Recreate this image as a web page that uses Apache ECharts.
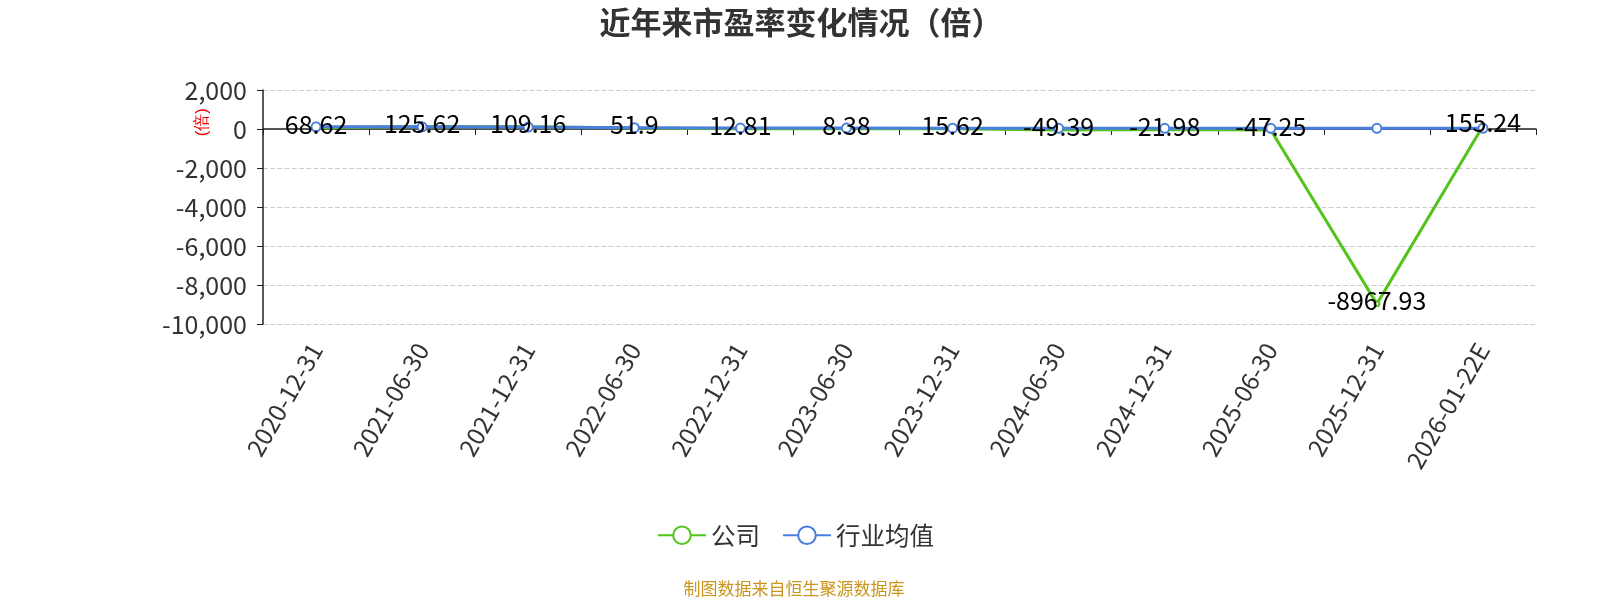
<!DOCTYPE html>
<html><head><meta charset="utf-8">
<script src="https://cdn.jsdelivr.net/npm/echarts@6/dist/echarts.min.js"></script>
<style>html,body{margin:0;padding:0;background:#fff;overflow:hidden}#c{width:1600px;height:600px}</style>
</head><body><div id="c"></div>
<script>
const categories = ['2020-12-31','2021-06-30','2021-12-31','2022-06-30','2022-12-31','2023-06-30','2023-12-31','2024-06-30','2024-12-31','2025-06-30','2025-12-31','2026-01-22E'];
const companyPE = [68.62,125.62,109.16,51.9,12.81,8.38,15.62,-49.39,-21.98,-47.25,-8967.93,155.24];
const industryPE = [110,110,100,70,50,45,40,35,35,35,35,35];
const yTicks = {min:-10000, max:2000, interval:2000};
const font = '"Noto Sans CJK SC",sans-serif';
const chart = echarts.init(document.getElementById('c'));
chart.setOption({
  animation:false,
  textStyle:{fontFamily:font},
  title:[
    {text:'近年来市盈率变化情况（倍）',left:796,textAlign:'center',top:2,textStyle:{fontSize:31,fontWeight:'bold',color:'#333',fontFamily:font}},
    {text:'制图数据来自恒生聚源数据库',left:789,textAlign:'center',top:575,textStyle:{fontSize:17,fontWeight:'normal',color:'#c8961e',fontFamily:font}}
  ],
  graphic:[{type:'text',left:194,top:108,rotation:Math.PI/2,style:{text:'(倍)',fill:'#e00',fontSize:17,font:'17px '+font}}],
  legend:{top:518,left:652,itemWidth:48,itemHeight:22,itemGap:22,textStyle:{fontSize:24.5,color:'#333'},data:['公司','行业均值']},
  grid:{left:263,right:64,top:90,bottom:276,outerBoundsMode:'none',containLabel:false},
  xAxis:{type:'category',data:categories,boundaryGap:true,
    axisLine:{onZero:true,lineStyle:{color:'#222',width:1.5}},
    axisTick:{show:true,length:6,lineStyle:{color:'#222'}},
    axisLabel:{rotate:60,fontSize:24.5,color:'#333',margin:21,interval:0}},
  yAxis:{type:'value',min:yTicks.min,max:yTicks.max,interval:yTicks.interval,
    axisLine:{show:true,lineStyle:{color:'#222',width:1.5}},
    axisTick:{show:true,length:6,lineStyle:{color:'#222'}},
    axisLabel:{fontSize:25,color:'#333',margin:16},
    splitLine:{lineStyle:{type:'dashed',color:'#ccc',width:1.2}}},
  series:[
    {name:'公司',type:'line',data:companyPE,symbol:'emptyCircle',symbolSize:5,showAllSymbol:true,
      itemStyle:{color:'#52c41a'},lineStyle:{width:3,color:'#52c41a'},
      label:{show:true,position:'inside',offset:[0,-3],fontSize:25,color:'#000'}},
    {name:'行业均值',type:'line',data:industryPE,symbol:'emptyCircle',symbolSize:9,showAllSymbol:true,
      itemStyle:{color:'#4a7fe0',borderWidth:2},lineStyle:{width:3,color:'#4a7fe0'}}
  ]
});
</script></body></html>
